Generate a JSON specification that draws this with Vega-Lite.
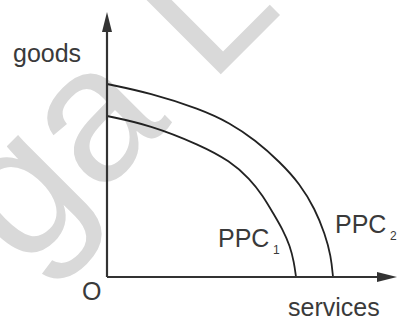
{
  "$schema": "https://vega.github.io/schema/vega-lite/v6.json",
  "width": 398,
  "height": 319,
  "padding": 0,
  "autosize": {"type": "none"},
  "background": "white",
  "config": {"view": {"stroke": null}},
  "datasets": {
    "curves": [
      {"curve": "PPC1", "x": 0, "y": 161},
      {"curve": "PPC1", "x": 43, "y": 152},
      {"curve": "PPC1", "x": 93, "y": 132},
      {"curve": "PPC1", "x": 123, "y": 116},
      {"curve": "PPC1", "x": 143, "y": 98},
      {"curve": "PPC1", "x": 156, "y": 81},
      {"curve": "PPC1", "x": 166, "y": 64},
      {"curve": "PPC1", "x": 176, "y": 47},
      {"curve": "PPC1", "x": 183, "y": 31},
      {"curve": "PPC1", "x": 187, "y": 15},
      {"curve": "PPC1", "x": 189, "y": 0},
      {"curve": "PPC2", "x": 0, "y": 193},
      {"curve": "PPC2", "x": 43, "y": 184},
      {"curve": "PPC2", "x": 93, "y": 168},
      {"curve": "PPC2", "x": 123, "y": 154},
      {"curve": "PPC2", "x": 148, "y": 137},
      {"curve": "PPC2", "x": 173, "y": 115},
      {"curve": "PPC2", "x": 193, "y": 93},
      {"curve": "PPC2", "x": 208, "y": 68},
      {"curve": "PPC2", "x": 218, "y": 43},
      {"curve": "PPC2", "x": 224, "y": 21},
      {"curve": "PPC2", "x": 226, "y": 0}
    ],
    "axes": [
      {"axis": "goods", "x": 0, "y": 0, "x2": 0, "y2": 255},
      {"axis": "services", "x": 0, "y": 0, "x2": 280, "y2": 0}
    ],
    "arrowUp": [{"x": 0, "y": 255}],
    "arrowRight": [{"x": 280, "y": 0}],
    "labels": [
      {"text": "goods", "x": -94, "y": 215},
      {"text": "O", "x": -25, "y": -23},
      {"text": "services", "x": 181, "y": -39},
      {"text": "PPC", "x": 111, "y": 30},
      {"text": "PPC", "x": 228, "y": 44}
    ],
    "subs": [
      {"text": "1", "x": 166, "y": 23},
      {"text": "2", "x": 283, "y": 37}
    ],
    "watermark": [{"text": "ga L", "x": -84, "y": 5}]
  },
  "layer": [
    {
      "data": {"name": "watermark"},
      "mark": {"type": "text", "angle": -45, "align": "left", "baseline": "alphabetic", "font": "Liberation Sans", "fontSize": 190, "color": "#d9d9d9"},
      "encoding": {
        "x": {"field": "x", "type": "quantitative", "scale": {"domain": [-107, 291], "zero": false, "nice": false}, "axis": null},
        "y": {"field": "y", "type": "quantitative", "scale": {"domain": [-42, 277], "zero": false, "nice": false}, "axis": null},
        "text": {"field": "text"}
      }
    },
    {
      "data": {"name": "curves"},
      "mark": {"type": "line", "interpolate": "basis", "color": "#222222", "strokeWidth": 1.8},
      "encoding": {
        "x": {"field": "x", "type": "quantitative", "scale": {"domain": [-107, 291], "zero": false, "nice": false}, "axis": null},
        "y": {"field": "y", "type": "quantitative", "scale": {"domain": [-42, 277], "zero": false, "nice": false}, "axis": null},
        "detail": {"field": "curve"}
      }
    },
    {
      "data": {"name": "axes"},
      "mark": {"type": "rule", "color": "#333333", "strokeWidth": 2.2},
      "encoding": {
        "x": {"field": "x", "type": "quantitative", "scale": {"domain": [-107, 291], "zero": false, "nice": false}, "axis": null},
        "y": {"field": "y", "type": "quantitative", "scale": {"domain": [-42, 277], "zero": false, "nice": false}, "axis": null},
        "x2": {"field": "x2"},
        "y2": {"field": "y2"}
      }
    },
    {
      "data": {"name": "arrowUp"},
      "mark": {"type": "point", "shape": "M0,-1L0.5,1L-0.5,1Z", "size": 400, "filled": true, "color": "#333333", "opacity": 1},
      "encoding": {
        "x": {"field": "x", "type": "quantitative", "scale": {"domain": [-107, 291], "zero": false, "nice": false}, "axis": null},
        "y": {"field": "y", "type": "quantitative", "scale": {"domain": [-42, 277], "zero": false, "nice": false}, "axis": null}
      }
    },
    {
      "data": {"name": "arrowRight"},
      "mark": {"type": "point", "shape": "M1,0L-1,-0.5L-1,0.5Z", "size": 400, "filled": true, "color": "#333333", "opacity": 1},
      "encoding": {
        "x": {"field": "x", "type": "quantitative", "scale": {"domain": [-107, 291], "zero": false, "nice": false}, "axis": null},
        "y": {"field": "y", "type": "quantitative", "scale": {"domain": [-42, 277], "zero": false, "nice": false}, "axis": null}
      }
    },
    {
      "data": {"name": "labels"},
      "mark": {"type": "text", "align": "left", "baseline": "alphabetic", "font": "Liberation Sans", "fontSize": 25, "color": "#3a3a3a"},
      "encoding": {
        "x": {"field": "x", "type": "quantitative", "scale": {"domain": [-107, 291], "zero": false, "nice": false}, "axis": null},
        "y": {"field": "y", "type": "quantitative", "scale": {"domain": [-42, 277], "zero": false, "nice": false}, "axis": null},
        "text": {"field": "text"}
      }
    },
    {
      "data": {"name": "subs"},
      "mark": {"type": "text", "align": "left", "baseline": "alphabetic", "font": "Liberation Sans", "fontSize": 12, "color": "#3a3a3a"},
      "encoding": {
        "x": {"field": "x", "type": "quantitative", "scale": {"domain": [-107, 291], "zero": false, "nice": false}, "axis": null},
        "y": {"field": "y", "type": "quantitative", "scale": {"domain": [-42, 277], "zero": false, "nice": false}, "axis": null},
        "text": {"field": "text"}
      }
    }
  ]
}
